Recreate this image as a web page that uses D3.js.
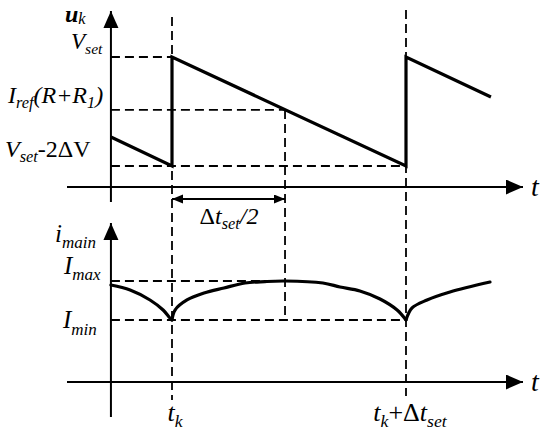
<!DOCTYPE html>
<html>
<head>
<meta charset="utf-8">
<style>
  body { margin: 0; background: #fff; }
</style>
</head>
<body>
<div id="chart"></div>
<script src="https://cdn.jsdelivr.net/npm/d3@7/dist/d3.min.js"></script>
<script>
// time in units of dt_set, measured from t_k
var tMarks = [0, 1];          // t_k, t_k + dt_set
var tHalf = 0.483;            // dt_set/2 marker
var tOrigin = -0.261;         // where the vertical axes stand

// u_k sawtooth, 0 = Vset-2dV, 1 = Vset
var uT = [-0.261, 0, 0, 1, 1, 1.363];
var uV = [0.266, 0, 1, 0, 1, 0.633];
var uRef = 0.514;             // Iref(R+R1) level

// i_main, 0 = Imin, 1 = Imax, split at the cusps
var iPiece0 = [[-0.261, 0.897], [-0.179, 0.769], [-0.094, 0.513], [-0.038, 0.256], [-0.009, 0.051], [0, 0]];
var iPiece1 = [[0, 0], [0.013, 0.256], [0.064, 0.513], [0.137, 0.692], [0.222, 0.821], [0.312, 0.949],
               [0.397, 0.985], [0.483, 1], [0.645, 0.949], [0.718, 0.846], [0.803, 0.744],
               [0.889, 0.538], [0.962, 0.256], [1, 0]];
var iPiece2 = [[1, 0], [1.026, 0.308], [1.090, 0.513], [1.188, 0.718], [1.359, 0.974]];

// ---- layout
var W = 550, H = 434;
var FONT = "'Liberation Serif', 'Times New Roman', serif";
var x = d3.scaleLinear().domain([0, 1]).range([172, 406]);
var yu = d3.scaleLinear().domain([0, 1]).range([166, 57]);
var yi = d3.scaleLinear().domain([0, 1]).range([320, 281]);
var axisTopY = 187, axisBotY = 382;
var axisLeft = 67, axisRight = 523;

var svg = d3.select("#chart").append("svg")
  .attr("width", W).attr("height", H);

var defs = svg.append("defs");
defs.append("marker").attr("id", "big")
  .attr("markerUnits", "userSpaceOnUse")
  .attr("markerWidth", 18).attr("markerHeight", 16)
  .attr("refX", 17).attr("refY", 7.5).attr("orient", "auto")
  .append("path").attr("d", "M0,0L17,7.5L0,15Z").attr("fill", "#000");
defs.append("marker").attr("id", "small")
  .attr("markerUnits", "userSpaceOnUse")
  .attr("markerWidth", 12).attr("markerHeight", 10)
  .attr("refX", 11).attr("refY", 4.5).attr("orient", "auto-start-reverse")
  .append("path").attr("d", "M0,0L11,4.5L0,9Z").attr("fill", "#000");

function line(x1, y1, x2, y2, cls) {
  var l = svg.append("line")
    .attr("x1", x1).attr("y1", y1).attr("x2", x2).attr("y2", y2)
    .attr("stroke", "#000");
  if (cls == "dash") l.attr("stroke-width", 1.8).attr("stroke-dasharray", "9,5");
  else l.attr("stroke-width", 2);
  return l;
}

// dashed guides
var x0 = x(tOrigin);
line(x0, yu(1), x(0), yu(1), "dash");
line(x0, yu(uRef), x(tHalf), yu(uRef), "dash");
line(x0, yu(0), x(1), yu(0), "dash");
line(x0, yi(1), x(tHalf), yi(1), "dash");
line(x0, yi(0), x(1), yi(0), "dash");
line(x(tHalf), yu(uRef), x(tHalf), yi(0), "dash");
line(x(tMarks[0]), 17, x(tMarks[0]), 400, "dash");
line(x(tMarks[1]), 10, x(tMarks[1]), 396, "dash");

// axes
line(axisLeft, axisTopY, axisRight, axisTopY).attr("marker-end", "url(#big)");
line(x0, 202, x0, 11).attr("marker-end", "url(#big)");
line(axisLeft, axisBotY, axisRight, axisBotY).attr("marker-end", "url(#big)");
line(x0, 417, x0, 223).attr("marker-end", "url(#big)");

// dt_set/2 double arrow
line(x(0), 199, x(tHalf), 199)
  .attr("marker-start", "url(#small)").attr("marker-end", "url(#small)");

// u_k sawtooth
svg.append("path")
  .datum(d3.zip(uT, uV))
  .attr("d", d3.line().x(d => x(d[0])).y(d => yu(d[1])))
  .attr("fill", "none").attr("stroke", "#000").attr("stroke-width", 3.2)
  .attr("stroke-linejoin", "miter");

// i_main
var iLine = d3.line().x(d => x(d[0])).y(d => yi(d[1])).curve(d3.curveCatmullRom.alpha(0.5));
svg.selectAll(".imain").data([iPiece0, iPiece1, iPiece2]).enter()
  .append("path").attr("class", "imain")
  .attr("d", iLine)
  .attr("fill", "none").attr("stroke", "#000").attr("stroke-width", 3.2)
  .attr("stroke-linecap", "round");

// labels: parts are [text, kind] with kind i = italic, r = upright, s = subscript
function label(px, py, parts, size, anchor, drop) {
  var t = svg.append("text").attr("x", px).attr("y", py)
    .style("font-family", FONT).style("font-size", size + "px")
    .attr("text-anchor", anchor || "start");
  var shift = size * (drop == null ? 0.22 : drop);
  var down = false;
  parts.forEach(function(p) {
    var s = t.append("tspan").text(p[0]).style("font-family", FONT);
    if (p[1] == "s") {
      s.style("font-style", "italic").style("font-size", (size * 0.68) + "px");
      if (!down) s.attr("dy", shift);
      down = true;
    } else {
      if (down) s.attr("dy", -shift);
      down = false;
      s.style("font-style", p[1] == "i" ? "italic" : "normal");
    }
    if (p[2]) s.style("font-weight", p[2]);
  });
  return t;
}

label(65, 22, [["u", "i", "bold"], ["k", "s"]], 24, "start", 0.08);
label(71, 49, [["V", "i"], ["set", "s"]], 23);
label(8, 103, [["I", "i"], ["ref", "s"], ["(R+R", "i"], ["1", "s"], [")", "i"]], 24);
label(5, 157, [["V", "i"], ["set", "s"], ["-2\u0394V", "r"]], 24);
label(229, 224, [["\u0394", "r"], ["t", "i"], ["set", "s"], ["/2", "i"]], 24, "middle");
label(55, 242, [["i", "i"], ["main", "s"]], 25);
label(64, 274, [["I", "i"], ["max", "s"]], 25);
label(63, 328, [["I", "i"], ["min", "s"]], 25, "start", 0.26);
label(531, 196, [["t", "i"]], 28);
label(531, 391, [["t", "i"]], 28);
label(175, 421, [["t", "i"], ["k", "s"]], 26, "middle");
label(410, 421, [["t", "i"], ["k", "s"], ["+\u0394", "r"], ["t", "i"], ["set", "s"]], 26, "middle");
</script>
</body>
</html>
